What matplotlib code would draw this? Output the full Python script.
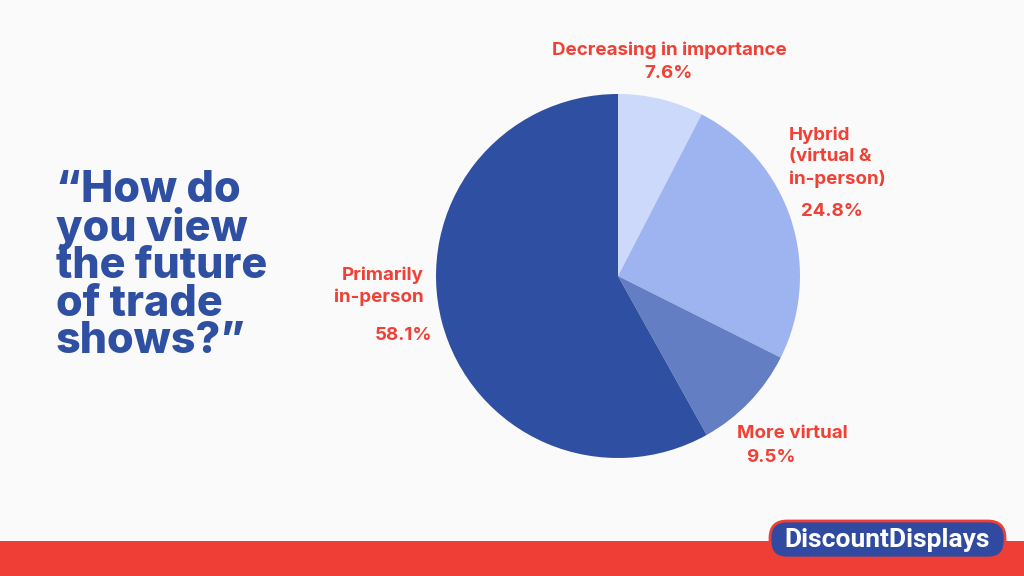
import matplotlib
matplotlib.use("Agg")
import matplotlib.pyplot as plt
from matplotlib.patches import Rectangle, FancyBboxPatch

categories = ["Decreasing in importance", "Hybrid\n(virtual &\nin-person)", "More virtual", "Primarily\nin-person"]
values = [7.6, 24.8, 9.5, 58.1]
colors = ["#ccd9fb", "#9db4f0", "#647ec3", "#2f4fa2"]
title = "\u201cHow do\nyou view\nthe future\nof trade\nshows?\u201d"

W, H = 1024, 576
fig = plt.figure(figsize=(W/100, H/100), dpi=100, facecolor="#fafafa")

def fx(x): return x / W
def fy(y): return 1 - y / H

# pie axes
cx, cy, r = 618, 276, 182
ax = fig.add_axes([fx(cx - r), fy(cy + r), 2*r/W, 2*r/H])
ax.pie(values, colors=colors, startangle=90, counterclock=False, radius=1,
       wedgeprops=dict(linewidth=0))
ax.set_xlim(-1, 1); ax.set_ylim(-1, 1)
ax.set_aspect("equal")
ax.axis("off")

red = "#ef4136"
lab = dict(color=red, fontsize=13.5, fontweight="bold", family="Inter")

# labels
fig.text(fx(669), fy(50), categories[0], ha="center", va="center", **lab)
fig.text(fx(669), fy(74), f"{values[0]}%", ha="center", va="center", **lab)

fig.text(fx(789), fy(157), categories[1], ha="left", va="center", linespacing=1.35, **lab)
fig.text(fx(832), fy(212), f"{values[1]}%", ha="center", va="center", **lab)

fig.text(fx(737), fy(434), categories[2], ha="left", va="center", **lab)
fig.text(fx(771), fy(458), f"{values[2]}%", ha="center", va="center", **lab)

fig.text(fx(424), fy(286), categories[3], ha="right", va="center", linespacing=1.35, **lab)
fig.text(fx(404), fy(335), f"{values[3]}%", ha="center", va="center", **lab)

# title
fig.text(fx(56), fy(266), title, ha="left", va="center", color="#2f4fa2",
         fontsize=31, fontweight="heavy", family="Inter", linespacing=0.88)

# bottom red band
fig.patches.append(Rectangle((0, 0), 1, fy(541), transform=fig.transFigure,
                             facecolor="#ef3e36", edgecolor="none", zorder=-1))

# logo in a pixel-coordinate axes
lx0, ly0, lx1, ly1 = 768, 519, 1007, 560
lax = fig.add_axes([fx(lx0), fy(ly1), (lx1 - lx0)/W, (ly1 - ly0)/H])
lax.set_zorder(5)
lax.set_xlim(0, lx1 - lx0); lax.set_ylim(0, ly1 - ly0)
lax.axis("off")
lax.add_patch(FancyBboxPatch((2, 2), lx1 - lx0 - 4, ly1 - ly0 - 4,
                             boxstyle="round,pad=0,rounding_size=17",
                             facecolor="#2f4aa0", edgecolor="#ef3e36", linewidth=2))
lax.text((lx1 - lx0)/2, (ly1 - ly0)/2 - 1, "DiscountDisplays", ha="center", va="center",
         color="white", fontsize=19, fontweight="bold", family="Roboto")

fig.savefig("out.png", dpi=100, facecolor=fig.get_facecolor())
